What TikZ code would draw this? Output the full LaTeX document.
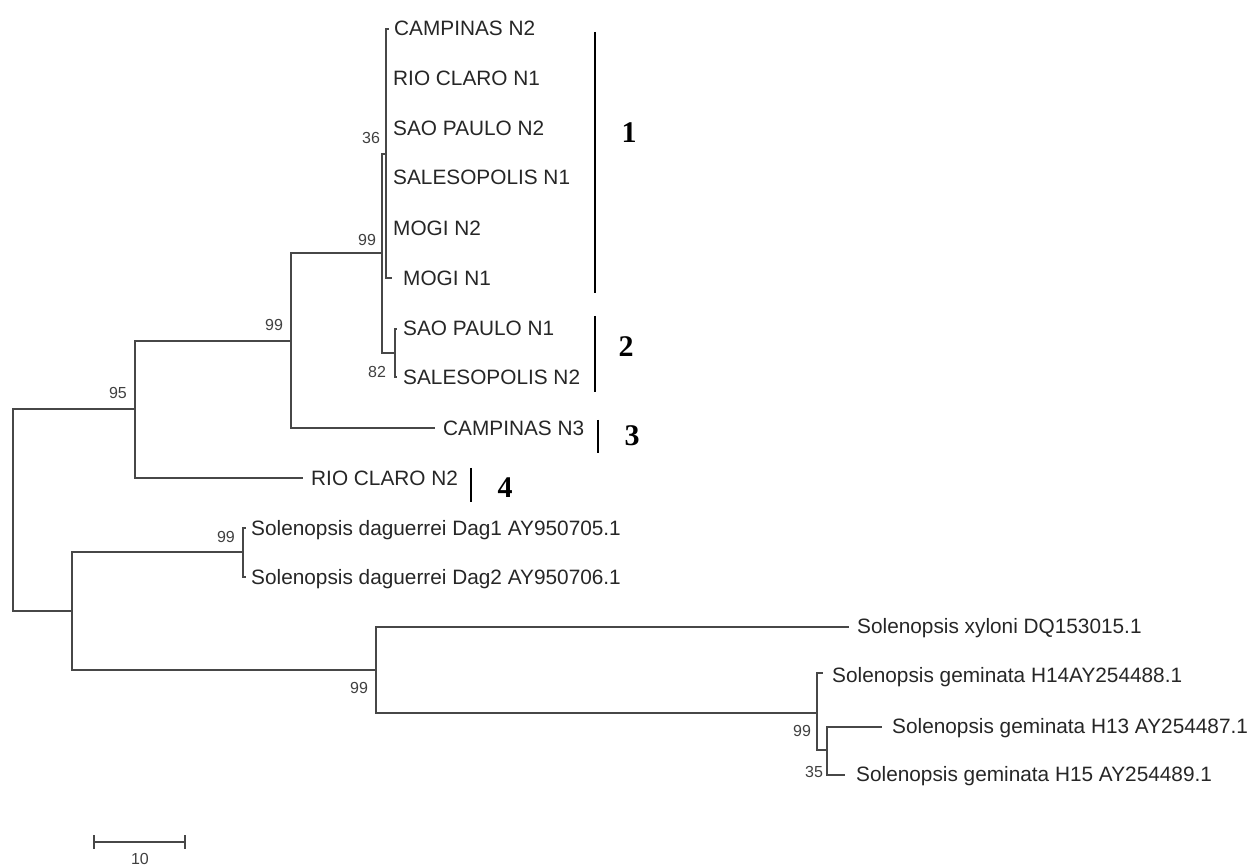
\documentclass[tikz,border=0pt]{standalone}
\usepackage{fontspec}
\setmainfont{Liberation Sans}
\newfontfamily\tnr{Liberation Serif}
\begin{document}
\begin{tikzpicture}[x=1pt,y=-1pt,
  br/.style={draw=black!72,line width=1.5pt},
  leaf/.style={anchor=base west,inner sep=0pt,text=black!85,font=\fontsize{20.8}{21}\selectfont},
  boot/.style={anchor=center,inner sep=0pt,text=black!75,font=\fontsize{16}{17}\selectfont},
  grp/.style={draw=black,line width=2pt},
  grplab/.style={anchor=center,inner sep=0pt,font=\tnr\bfseries\fontsize{30}{30}\selectfont}]
\useasboundingbox (0,0) rectangle (1251,866);
% leaf labels (y + 7.5 gives baseline)
\node[leaf] (CN2) at (394,36) {CAMPINAS N2};
\node[leaf] (RCN1) at (393,85.5) {RIO CLARO N1};
\node[leaf] (SPN2) at (393,135.5) {SAO PAULO N2};
\node[leaf] (SN1) at (393,184.5) {SALESOPOLIS N1};
\node[leaf] (MN2) at (393,235.5) {MOGI N2};
\node[leaf] (MN1) at (403,285.5) {MOGI N1};
\node[leaf] (SPN1) at (403,336) {SAO PAULO N1};
\node[leaf] (SN2) at (403,384.5) {SALESOPOLIS N2};
\node[leaf] (CN3) at (443,435.5) {CAMPINAS N3};
\node[leaf] (RCN2) at (311,485.5) {RIO CLARO N2};
\node[leaf] (DAG1) at (251,535) {Solenopsis daguerrei Dag1 AY950705.1};
\node[leaf] (DAG2) at (251,584.5) {Solenopsis daguerrei Dag2 AY950706.1};
\node[leaf] (XYL) at (857,633) {Solenopsis xyloni DQ153015.1};
\node[leaf] (H14) at (832,682) {Solenopsis geminata H14AY254488.1};
\node[leaf] (H13) at (892,733) {Solenopsis geminata H13 AY254487.1};
\node[leaf] (H15) at (856,781) {Solenopsis geminata H15 AY254489.1};
% branch tips
\coordinate (tCN2) at (389,29);
\coordinate (tRCN1) at (386,78);
\coordinate (tSPN2) at (386,128);
\coordinate (tSN1) at (386,177);
\coordinate (tMN2) at (386,228);
\coordinate (tMN1) at (392,278);
\coordinate (tSPN1) at (397,329);
\coordinate (tSN2) at (397,377);
\coordinate (tCN3) at (435,428);
\coordinate (tRCN2) at (303,478);
\coordinate (tDAG1) at (246,528);
\coordinate (tDAG2) at (246,577);
\coordinate (tXYL) at (849,627);
\coordinate (tH14) at (823,673);
\coordinate (tH13) at (882,727);
\coordinate (tH15) at (845,775);
% internal nodes
\coordinate (c1) at (386,154);
\coordinate (c2) at (395,353);
\coordinate (n12) at (382,253);
\coordinate (n99) at (291,341);
\coordinate (n95) at (135,409);
\coordinate (root) at (13,510);
\coordinate (n72) at (72,611);
\coordinate (dag) at (243,552);
\coordinate (xy) at (376,670);
\coordinate (gem) at (817,713);
\coordinate (g35) at (827,750);
% branches
\draw[br] (c1) |- (tCN2);
\draw[br] (c1) |- (tMN1);
\draw[br] (c1) |- (tRCN1) (c1) |- (tSPN2) (c1) |- (tSN1) (c1) |- (tMN2);
\draw[br] (c2) |- (tSPN1);
\draw[br] (c2) |- (tSN2);
\draw[br] (n12) |- (c1);
\draw[br] (n12) |- (c2);
\draw[br] (n99) |- (n12);
\draw[br] (n99) |- (tCN3);
\draw[br] (n95) |- (n99);
\draw[br] (n95) |- (tRCN2);
\draw[br] (root) |- (n95);
\draw[br] (root) |- (n72);
\draw[br] (n72) |- (dag);
\draw[br] (n72) |- (xy);
\draw[br] (dag) |- (tDAG1);
\draw[br] (dag) |- (tDAG2);
\draw[br] (xy) |- (tXYL);
\draw[br] (xy) |- (gem);
\draw[br] (gem) |- (tH14);
\draw[br] (gem) |- (g35);
\draw[br] (g35) |- (tH13);
\draw[br] (g35) |- (tH15);
% bootstrap values
\node[boot] (b36) at (371,138) {36};
\node[boot] (b99a) at (367,240) {99};
\node[boot] (b82) at (377,372) {82};
\node[boot] (b99b) at (274,325) {99};
\node[boot] (b95) at (118,393) {95};
\node[boot] (b99c) at (226,537) {99};
\node[boot] (b99d) at (359,688) {99};
\node[boot] (b99e) at (802,731) {99};
\node[boot] (b35) at (814,772) {35};
% group brackets
\coordinate (g1t) at (595,32); \coordinate (g1b) at (595,293);
\coordinate (g2t) at (595,316); \coordinate (g2b) at (595,392);
\coordinate (g3t) at (598,420); \coordinate (g3b) at (598,453);
\coordinate (g4t) at (471,468); \coordinate (g4b) at (471,502);
\draw[grp] (g1t) -- (g1b);
\draw[grp] (g2t) -- (g2b);
\draw[grp] (g3t) -- (g3b);
\draw[grp] (g4t) -- (g4b);
\node[grplab] (L1) at (629,133) {1};
\node[grplab] (L2) at (626,347) {2};
\node[grplab] (L3) at (632,436) {3};
\node[grplab] (L4) at (505,488) {4};
% scale bar
\coordinate (s0) at (94,842);
\coordinate (s1) at (185,842);
\draw[br] (s0) -- (s1);
\draw[br] ([yshift=7pt]s0) -- ([yshift=-7pt]s0);
\draw[br] ([yshift=7pt]s1) -- ([yshift=-7pt]s1);
\node[anchor=base,inner sep=0pt,text=black!75,font=\fontsize{16}{17}\selectfont] (sl) at (140,864) {10};
\end{tikzpicture}
\end{document}
